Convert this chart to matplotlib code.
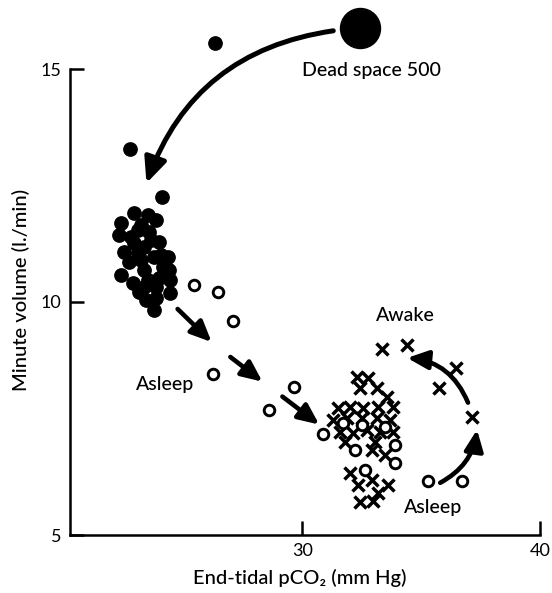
import matplotlib
matplotlib.use("Agg")
import matplotlib.pyplot as plt
from matplotlib.patches import FancyArrowPatch

plt.rcParams['font.family'] = ['Lato', 'DejaVu Sans']

# ---- data ----
dead_space_x = [32.44]
dead_space_y = [15.89]

filled_x = [26.34, 22.73, 24.08, 22.90, 23.49, 23.82, 22.35, 22.27, 23.07, 23.53,
            23.95, 22.48, 22.90, 23.32, 24.33, 23.74, 23.19, 24.37, 22.35, 22.86,
            23.32, 23.82, 24.45, 24.45, 23.82, 23.74, 23.32, 23.07, 23.61, 22.77,
            23.49, 24.12, 23.95, 23.19, 22.69, 24.03, 23.40, 23.11]
filled_y = [15.55, 13.28, 12.25, 11.91, 11.86, 11.76, 11.69, 11.43, 11.54, 11.50,
            11.28, 11.07, 11.26, 11.18, 10.96, 10.96, 10.90, 10.69, 10.58, 10.41,
            10.32, 10.32, 10.47, 10.19, 10.09, 9.83, 10.69, 11.05, 11.33, 11.39,
            10.47, 10.75, 10.51, 11.65, 10.86, 11.01, 10.04, 10.21]

open_x = [25.46, 26.43, 27.06, 26.22, 29.66, 28.61, 30.88, 32.23, 33.91, 33.91,
          32.65, 31.72, 32.52, 33.49, 35.29, 36.72]
open_y = [10.36, 10.21, 9.59, 8.46, 8.18, 7.69, 7.17, 6.83, 6.94, 6.55,
          6.40, 7.41, 7.37, 7.32, 6.15, 6.15]

cross_x = [33.36, 34.41, 36.47, 35.76, 37.14,
           32.31, 32.77, 32.44, 33.15, 33.57, 31.51, 32.02, 32.56, 33.19, 33.82,
           31.30, 31.89, 32.52, 33.15, 33.70, 31.60, 32.14, 32.73, 33.28, 33.82,
           31.81, 33.07, 32.94, 33.49, 32.02, 32.35, 32.94, 33.61, 33.19, 32.44,
           32.98]
cross_y = [8.99, 9.08, 8.59, 8.16, 7.54,
           8.39, 8.37, 8.16, 8.16, 7.97, 7.73, 7.75, 7.73, 7.75, 7.75,
           7.47, 7.52, 7.52, 7.52, 7.47, 7.22, 7.19, 7.26, 7.22, 7.22,
           7.00, 7.00, 6.83, 6.72, 6.34, 6.08, 6.19, 6.08, 5.91, 5.70,
           5.72]

# arrows: (x_start, y_start, x_end, y_end, curvature)
arrows = [
    (31.30, 15.82, 23.44, 12.55, 0.30),
    (24.75, 9.85, 26.18, 9.14, 0.0),
    (26.97, 8.82, 28.32, 8.29, 0.0),
    (29.16, 7.97, 30.71, 7.37, 0.0),
    (36.97, 7.84, 34.41, 8.80, 0.30),
    (35.80, 6.12, 37.35, 7.26, 0.25),
]

labels = [
    ("Dead space 500", 32.90, 14.97),
    ("Awake", 34.33, 9.72),
    ("Asleep", 24.24, 8.24),
    ("Asleep", 35.50, 5.59),
]

x_ticks = [30, 40]
y_ticks = [5, 10, 15]

# ---- figure ----
fig = plt.figure(figsize=(5.52, 5.93), dpi=100)
ax = fig.add_axes([69.5 / 552, 1 - 535 / 593, (540 - 69.5) / 552, (535 - 69) / 593])
ax.set_xlim(20.2, 40)
ax.set_ylim(5, 15)

ax.scatter(dead_space_x, dead_space_y, s=830, color='black', clip_on=False, zorder=3)
ax.scatter(filled_x, filled_y, s=92, color='black', clip_on=False, zorder=3)
ax.plot(open_x, open_y, linestyle='none', marker='o', ms=7.6, mfc='white',
        mec='black', mew=2.1, clip_on=False, zorder=4)
ax.plot(cross_x, cross_y, linestyle='none', marker='x', ms=9.2, mec='black',
        mew=2.5, clip_on=False, zorder=3)

for (x0, y0, x1, y1, rad) in arrows:
    big = y0 > 15
    arr = FancyArrowPatch((x0, y0), (x1, y1),
                          connectionstyle=f"arc3,rad={rad}",
                          arrowstyle="-|>,head_length=1.0,head_width=0.45",
                          mutation_scale=15 if big else 12.5,
                          lw=3.6 if big else 3.3, color='black',
                          shrinkA=0, shrinkB=0, clip_on=False, zorder=5)
    ax.add_patch(arr)

for (txt, x, y) in labels:
    ax.text(x, y, txt, ha='center', va='center', fontsize=14, color='black',
            fontweight='medium')

for sp in ['top', 'right']:
    ax.spines[sp].set_visible(False)
for sp in ['left', 'bottom']:
    ax.spines[sp].set_linewidth(1.8)

ax.set_xticks(x_ticks)
ax.set_yticks(y_ticks)
ax.set_xticklabels([str(t) for t in x_ticks])
ax.set_yticklabels([str(t) for t in y_ticks])
ax.tick_params(direction='in', length=10, width=1.8, labelsize=13, pad=6)

ax.set_xlabel("End-tidal pCO₂ (mm Hg)", fontsize=14.5, fontweight='medium')
ax.xaxis.label.set_va('center')
ax.xaxis.set_label_coords((300 - 69.5) / 470.5, (535 - 578) / 466)
ax.set_ylabel("Minute volume (l./min)", fontsize=14.5, fontweight='medium')
ax.yaxis.label.set_va('center')
ax.yaxis.set_label_coords((21 - 69.5) / 470.5, (535 - 290) / 466)

fig.savefig("out.png", dpi=100)
